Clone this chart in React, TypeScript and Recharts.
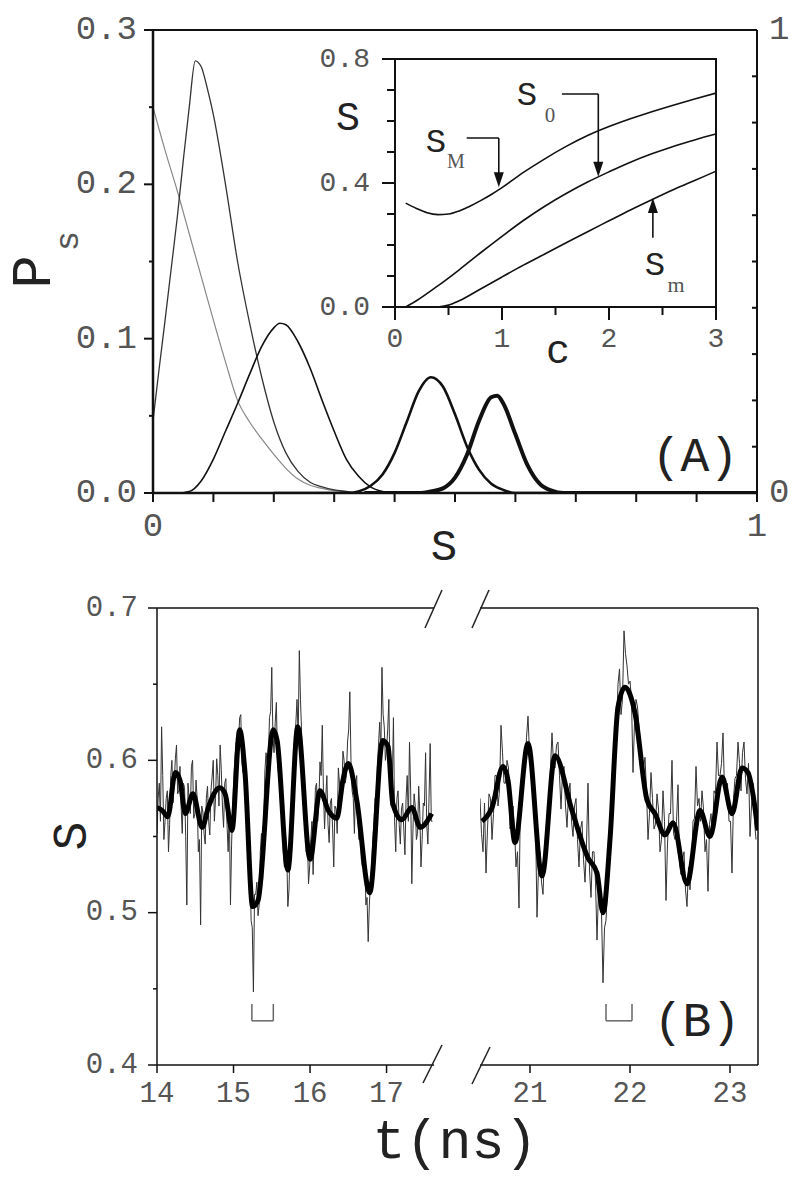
import React from "react";
import { LineChart, Line, XAxis, YAxis, ReferenceLine, ReferenceDot, ReferenceArea } from "recharts";

const FONT = "'Liberation Mono', 'DejaVu Sans Mono', monospace";
const SUB_FONT = "'Liberation Serif', 'DejaVu Serif', serif";
const INK = "#111";
const LABEL = "#555";

// ---------- panel A: P_s(S) distributions ----------
const GRAY_S = [0, 0.02, 0.04, 0.06, 0.08, 0.1, 0.12, 0.14, 0.16, 0.18, 0.2, 0.22, 0.24, 0.26, 0.28, 0.3, 0.32, 0.34, 0.4];
const GRAY_P = [0.25, 0.222, 0.196, 0.168, 0.14, 0.112, 0.085, 0.06, 0.046, 0.035, 0.025, 0.016, 0.009, 0.005, 0.003, 0.0015, 0.0008, 0, 0];

const THIN_S = [0, 0.01, 0.02, 0.03, 0.04, 0.05, 0.06, 0.07, 0.08, 0.09, 0.1, 0.12, 0.14, 0.16, 0.18, 0.2, 0.22, 0.24, 0.26, 0.28, 0.3, 0.32, 0.34, 0.4];
const THIN_P = [0.047, 0.08, 0.112, 0.145, 0.178, 0.215, 0.25, 0.28, 0.276, 0.262, 0.245, 0.2, 0.15, 0.11, 0.075, 0.046, 0.026, 0.014, 0.007, 0.004, 0.002, 0.001, 0, 0];

const MID_S = [0, 0.04, 0.06, 0.08, 0.1, 0.12, 0.14, 0.16, 0.18, 0.2, 0.21, 0.22, 0.24, 0.26, 0.28, 0.3, 0.32, 0.34, 0.36, 0.38, 0.4, 0.5];
const MID_P = [0, 0, 0.001, 0.008, 0.022, 0.04, 0.058, 0.077, 0.095, 0.107, 0.11, 0.109, 0.098, 0.081, 0.06, 0.04, 0.022, 0.011, 0.004, 0.001, 0, 0];

const BOLD_S = [0.2, 0.32, 0.34, 0.36, 0.38, 0.4, 0.42, 0.44, 0.46, 0.48, 0.5, 0.52, 0.54, 0.56, 0.58, 0.6, 0.7];
const BOLD_P = [0, 0, 0.001, 0.0045, 0.012, 0.026, 0.046, 0.066, 0.075, 0.069, 0.051, 0.03, 0.015, 0.006, 0.002, 0, 0];

const HEAVY_S = [0.35, 0.44, 0.46, 0.48, 0.5, 0.52, 0.54, 0.56, 0.57, 0.58, 0.6, 0.62, 0.64, 0.66, 0.68, 0.7, 1];
const HEAVY_P = [0, 0, 0.001, 0.003, 0.01, 0.025, 0.047, 0.062, 0.063, 0.058, 0.038, 0.018, 0.006, 0.0015, 0, 0, 0];

const A_X_TICKS = [0, 0.1, 0.2, 0.3, 0.4, 0.5, 0.6, 0.7, 0.8, 0.9, 1];
const A_X_LABELS = ["0", "", "", "", "", "", "", "", "", "", "1"];
const A_Y_TICKS = [0, 0.05, 0.1, 0.15, 0.2, 0.25, 0.3];
const A_Y_LABELS = ["0.0", "", "0.1", "", "0.2", "", "0.3"];
const A_R_TICKS = [0, 0.1, 0.2, 0.3, 0.4, 0.5, 0.6, 0.7, 0.8, 0.9, 1];
const A_R_LABELS = ["0", "", "", "", "", "", "", "", "", "", "1"];

// ---------- inset: S(c) ----------
const SM_C = [0.1, 0.2, 0.3, 0.4, 0.5, 0.6, 0.7, 0.8, 0.9, 1, 1.2, 1.4, 1.6, 1.8, 2, 2.2, 2.4, 2.6, 2.8, 3];
const SM_S = [0.335, 0.318, 0.304, 0.298, 0.3, 0.31, 0.325, 0.343, 0.363, 0.385, 0.434, 0.478, 0.518, 0.553, 0.582, 0.607, 0.63, 0.651, 0.671, 0.69];
const S0_C = [0.1, 0.2, 0.4, 0.6, 0.8, 1, 1.2, 1.4, 1.6, 1.8, 2, 2.2, 2.4, 2.6, 2.8, 3];
const S0_S = [0, 0.02, 0.068, 0.12, 0.175, 0.228, 0.279, 0.325, 0.366, 0.403, 0.436, 0.467, 0.494, 0.518, 0.539, 0.558];
const SMIN_C = [0.4, 0.5, 0.6, 0.8, 1, 1.2, 1.4, 1.6, 1.8, 2, 2.2, 2.4, 2.6, 2.8, 3];
const SMIN_S = [0, 0.006, 0.02, 0.058, 0.097, 0.135, 0.171, 0.207, 0.243, 0.278, 0.313, 0.346, 0.378, 0.408, 0.438];

const IN_X_TICKS = [0, 0.5, 1, 1.5, 2, 2.5, 3];
const IN_X_LABELS = ["0", "", "1", "", "2", "", "3"];
const IN_Y_TICKS = [0, 0.1, 0.2, 0.3, 0.4, 0.5, 0.6, 0.7, 0.8];
const IN_Y_LABELS = ["0.0", "", "", "", "0.4", "", "", "", "0.8"];

// ---------- panel B: S(t) ----------
// raw trace, sampled every 15 ps: the "main" samples and the ones halfway between them
const NOISE_DT = 0.03;
const NOISE_L_T0 = 14;
const NOISE_L = [
  0.552, 0.585, 0.622, 0.548, 0.575, 0.54, 0.59, 0.572, 0.601, 0.578,
  0.596, 0.552, 0.582, 0.505, 0.575, 0.596, 0.562, 0.587, 0.54, 0.492,
  0.566, 0.545, 0.583, 0.551, 0.589, 0.56, 0.601, 0.57, 0.594, 0.556,
  0.588, 0.54, 0.505, 0.572, 0.603, 0.6, 0.628, 0.598, 0.606, 0.56,
  0.52, 0.495, 0.448, 0.512, 0.498, 0.54, 0.522, 0.593, 0.598, 0.628,
  0.661, 0.605, 0.638, 0.59, 0.586, 0.54, 0.55, 0.504, 0.545, 0.578,
  0.612, 0.64, 0.672, 0.618, 0.592, 0.54, 0.519, 0.548, 0.525, 0.582,
  0.56, 0.599, 0.623, 0.555, 0.59, 0.546, 0.575, 0.53, 0.568, 0.595,
  0.572, 0.606, 0.585, 0.612, 0.645, 0.58, 0.552, 0.59, 0.548, 0.535,
  0.542, 0.505, 0.481, 0.52, 0.548, 0.575, 0.598, 0.625, 0.661, 0.622,
  0.608, 0.64, 0.57, 0.628, 0.54, 0.58, 0.545, 0.572, 0.538, 0.59,
  0.612, 0.519, 0.578, 0.548, 0.583, 0.53, 0.572, 0.605, 0.545, 0.611,
  0.56,
];
const NOISE_L_MID = [
  0.575, 0.56, 0.59, 0.56, 0.58, 0.558, 0.6, 0.585, 0.61, 0.58,
  0.57, 0.585, 0.55, 0.585, 0.565, 0.6, 0.565, 0.575, 0.548, 0.57,
  0.552, 0.575, 0.56, 0.58, 0.6, 0.575, 0.59, 0.61, 0.57, 0.585,
  0.558, 0.57, 0.545, 0.59, 0.612, 0.612, 0.63, 0.592, 0.6, 0.545,
  0.53, 0.49, 0.512, 0.52, 0.505, 0.552, 0.56, 0.605, 0.6, 0.632,
  0.615, 0.625, 0.598, 0.605, 0.575, 0.53, 0.54, 0.515, 0.562, 0.595,
  0.625, 0.615, 0.64, 0.6, 0.575, 0.55, 0.53, 0.56, 0.55, 0.585,
  0.572, 0.59, 0.58, 0.575, 0.558, 0.572, 0.555, 0.57, 0.552, 0.585,
  0.578, 0.6, 0.59, 0.62, 0.6, 0.575, 0.585, 0.56, 0.565, 0.53,
  0.535, 0.51, 0.505, 0.53, 0.56, 0.572, 0.61, 0.605, 0.63, 0.6,
  0.62, 0.59, 0.585, 0.56, 0.575, 0.558, 0.568, 0.555, 0.575, 0.56,
  0.58, 0.555, 0.57, 0.552, 0.565, 0.548, 0.57, 0.558, 0.575, 0.56,
];
const NOISE_R_T0 = 20.5;
const NOISE_R = [
  0.575, 0.54, 0.526, 0.578, 0.548, 0.59, 0.57, 0.623, 0.585, 0.6,
  0.555, 0.57, 0.53, 0.503, 0.592, 0.596, 0.629, 0.6, 0.572, 0.497,
  0.54, 0.512, 0.555, 0.575, 0.618, 0.595, 0.612, 0.568, 0.596, 0.556,
  0.585, 0.55, 0.575, 0.53, 0.56, 0.52, 0.585, 0.51, 0.54, 0.482,
  0.52, 0.454, 0.495, 0.53, 0.585, 0.605, 0.65, 0.63, 0.685, 0.662,
  0.652, 0.592, 0.64, 0.622, 0.588, 0.602, 0.548, 0.592, 0.555, 0.578,
  0.54, 0.58, 0.508, 0.565, 0.6, 0.548, 0.584, 0.525, 0.54, 0.504,
  0.515, 0.56, 0.596, 0.575, 0.58, 0.54, 0.514, 0.565, 0.58, 0.612,
  0.59, 0.618, 0.575, 0.56, 0.526, 0.588, 0.612, 0.58, 0.612, 0.578,
  0.55, 0.585, 0.548,
];
const NOISE_R_MID = [
  0.552, 0.572, 0.555, 0.575, 0.565, 0.59, 0.58, 0.605, 0.585, 0.595,
  0.56, 0.555, 0.54, 0.58, 0.59, 0.615, 0.605, 0.6, 0.56, 0.53,
  0.52, 0.54, 0.56, 0.595, 0.598, 0.61, 0.59, 0.592, 0.57, 0.578,
  0.56, 0.57, 0.548, 0.555, 0.535, 0.545, 0.528, 0.54, 0.52, 0.515,
  0.5, 0.49, 0.515, 0.56, 0.595, 0.62, 0.66, 0.64, 0.67, 0.65,
  0.64, 0.625, 0.635, 0.6, 0.595, 0.58, 0.565, 0.575, 0.558, 0.568,
  0.548, 0.56, 0.545, 0.565, 0.552, 0.56, 0.532, 0.535, 0.515, 0.53,
  0.532, 0.562, 0.57, 0.56, 0.568, 0.548, 0.558, 0.55, 0.578, 0.59,
  0.598, 0.58, 0.585, 0.56, 0.575, 0.59, 0.598, 0.605, 0.588, 0.598,
  0.57, 0.56,
];

const SMOOTH_L_T = [14, 14.07, 14.14, 14.24, 14.3, 14.37, 14.47, 14.59, 14.67, 14.82, 14.89, 14.98, 15.08, 15.15, 15.25, 15.32, 15.52, 15.57, 15.71, 15.84, 16, 16.13, 16.24, 16.35, 16.43, 16.5, 16.61, 16.78, 16.95, 17.02, 17.08, 17.2, 17.33, 17.44, 17.59];
const SMOOTH_L_S = [0.569, 0.567, 0.563, 0.592, 0.587, 0.565, 0.578, 0.556, 0.569, 0.582, 0.578, 0.554, 0.62, 0.592, 0.504, 0.508, 0.62, 0.613, 0.528, 0.622, 0.535, 0.58, 0.567, 0.562, 0.587, 0.598, 0.574, 0.513, 0.613, 0.609, 0.572, 0.561, 0.569, 0.556, 0.565];
const SMOOTH_R_T = [20.52, 20.62, 20.73, 20.78, 20.85, 20.98, 21.12, 21.25, 21.42, 21.58, 21.67, 21.73, 21.8, 21.88, 21.95, 22.05, 22.17, 22.25, 22.35, 22.43, 22.57, 22.7, 22.8, 22.92, 23.02, 23.12, 23.18, 23.28];
const SMOOTH_R_S = [0.56, 0.569, 0.596, 0.587, 0.546, 0.611, 0.524, 0.603, 0.567, 0.536, 0.526, 0.5, 0.548, 0.635, 0.648, 0.631, 0.574, 0.565, 0.551, 0.559, 0.519, 0.567, 0.55, 0.589, 0.565, 0.595, 0.592, 0.554];

const B_Y_TICKS = [0.4, 0.45, 0.5, 0.55, 0.6, 0.65, 0.7];
const B_Y_LABELS = ["0.4", "", "0.5", "", "0.6", "", "0.7"];
const B_XL_TICKS = [14, 15, 16, 17];
const B_XL_LABELS = ["14", "15", "16", "17"];
const B_XR_TICKS = [21, 22, 23];
const B_XR_LABELS = ["21", "22", "23"];

const pts = (xs: number[], ys: number[]) => xs.map((x, i) => ({ x, y: ys[i] }));
// merge the main samples with the halfway samples into one time series
const trace = (t0: number, main: number[], mid: number[]) => {
  const out: { x: number; y: number }[] = [];
  main.forEach((y, i) => {
    out.push({ x: +(t0 + i * NOISE_DT).toFixed(4), y });
    if (i < mid.length) out.push({ x: +(t0 + (i + 0.5) * NOISE_DT).toFixed(4), y: mid[i] });
  });
  return out;
};

type TickCfg = {
  values: number[];
  labels: string[];
  side: "left" | "right" | "bottom";
  major: number;
  minor: number;
  gap: number;
  size: number;
  width?: number;
};

function makeTick(cfg: TickCfg) {
  return (props: any) => {
    const { x, y, payload } = props;
    const i = cfg.values.findIndex((v) => Math.abs(v - payload.value) < 1e-6);
    const label = i >= 0 ? cfg.labels[i] : "";
    const len = label ? cfg.major : cfg.minor;
    const sw = cfg.width ?? 2;
    const textProps = { fontFamily: FONT, fontSize: cfg.size, fill: LABEL, dominantBaseline: "central" as const };
    if (cfg.side === "bottom") {
      return (
        <g>
          <line x1={x} y1={y} x2={x} y2={y + len} stroke={INK} strokeWidth={sw} />
          {label ? (
            <text x={x} y={y + cfg.gap} textAnchor="middle" {...textProps}>
              {label}
            </text>
          ) : null}
        </g>
      );
    }
    const dir = cfg.side === "left" ? -1 : 1;
    return (
      <g>
        <line x1={x} y1={y} x2={x + dir * len} y2={y} stroke={INK} strokeWidth={sw} />
        {label ? (
          <text x={x + dir * cfg.gap} y={y} textAnchor={dir < 0 ? "end" : "start"} {...textProps}>
            {label}
          </text>
        ) : null}
      </g>
    );
  };
}

const axisBase = { tickSize: 0, tickMargin: 0, tickLine: false, interval: 0 as const, allowDataOverflow: true };

const arrowDown = (p: any) => (
  <polygon points={`${p.cx - 5},${p.cy - 15} ${p.cx + 5},${p.cy - 15} ${p.cx},${p.cy}`} fill={INK} />
);
const arrowUp = (p: any) => (
  <polygon points={`${p.cx - 5},${p.cy + 15} ${p.cx + 5},${p.cy + 15} ${p.cx},${p.cy}`} fill={INK} />
);

function PanelA() {
  return (
    <div style={{ position: "absolute", left: 0, top: 0 }}>
      <LineChart width={792} height={560} margin={{ top: 30, right: 0, bottom: 7, left: 0 }}>
        <XAxis
          {...axisBase}
          type="number"
          dataKey="x"
          domain={[0, 1]}
          ticks={A_X_TICKS}
          height={60}
          axisLine={{ stroke: INK, strokeWidth: 2.5 }}
          tick={makeTick({ values: A_X_TICKS, labels: A_X_LABELS, side: "bottom", major: 9, minor: 9, gap: 34, size: 34 })}
        />
        <YAxis
          {...axisBase}
          yAxisId="l"
          type="number"
          domain={[0, 0.3]}
          ticks={A_Y_TICKS}
          width={153}
          axisLine={{ stroke: INK, strokeWidth: 2.5 }}
          tick={makeTick({ values: A_Y_TICKS, labels: A_Y_LABELS, side: "left", major: 9, minor: 4, gap: 16, size: 34 })}
        />
        <YAxis
          {...axisBase}
          yAxisId="r"
          orientation="right"
          type="number"
          domain={[0, 1]}
          ticks={A_R_TICKS}
          width={35}
          axisLine={{ stroke: INK, strokeWidth: 2 }}
          tick={makeTick({ values: A_R_TICKS, labels: A_R_LABELS, side: "right", major: -5, minor: -5, gap: 12, size: 34 })}
        />
        <ReferenceLine yAxisId="l" y={0.3} stroke={INK} strokeWidth={2} ifOverflow="visible" />
        <Line yAxisId="l" data={pts(GRAY_S, GRAY_P)} dataKey="y" type="monotone" stroke="#888" strokeWidth={1.2} dot={false} activeDot={false} isAnimationActive={false} />
        <Line yAxisId="l" data={pts(THIN_S, THIN_P)} dataKey="y" type="monotone" stroke="#333" strokeWidth={1.3} dot={false} activeDot={false} isAnimationActive={false} />
        <Line yAxisId="l" data={pts(MID_S, MID_P)} dataKey="y" type="monotone" stroke={INK} strokeWidth={1.6} dot={false} activeDot={false} isAnimationActive={false} />
        <Line yAxisId="l" data={pts(BOLD_S, BOLD_P)} dataKey="y" type="monotone" stroke={INK} strokeWidth={2.6} dot={false} activeDot={false} isAnimationActive={false} />
        <Line yAxisId="l" data={pts(HEAVY_S, HEAVY_P)} dataKey="y" type="monotone" stroke={INK} strokeWidth={4} dot={false} activeDot={false} isAnimationActive={false} />
      </LineChart>
    </div>
  );
}

function Inset() {
  return (
    <div style={{ position: "absolute", left: 300, top: 20 }}>
      <LineChart width={440} height={347} margin={{ top: 39, right: 24, bottom: 0, left: 0 }}>
        <XAxis
          {...axisBase}
          type="number"
          dataKey="x"
          domain={[0, 3]}
          ticks={IN_X_TICKS}
          height={60}
          axisLine={{ stroke: INK, strokeWidth: 2 }}
          tick={makeTick({ values: IN_X_TICKS, labels: IN_X_LABELS, side: "bottom", major: 13, minor: 8, gap: 32, size: 28 })}
        />
        <YAxis
          {...axisBase}
          type="number"
          domain={[0, 0.8]}
          ticks={IN_Y_TICKS}
          width={95}
          axisLine={{ stroke: INK, strokeWidth: 2 }}
          tick={makeTick({ values: IN_Y_TICKS, labels: IN_Y_LABELS, side: "left", major: 13, minor: 8, gap: 25, size: 28 })}
        />
        <ReferenceArea x1={0} x2={3} y1={0} y2={0.8} fill="none" fillOpacity={0} stroke={INK} strokeWidth={2} ifOverflow="visible" />
        <Line data={pts(SM_C, SM_S)} dataKey="y" type="monotone" stroke={INK} strokeWidth={1.6} dot={false} activeDot={false} isAnimationActive={false} />
        <Line data={pts(S0_C, S0_S)} dataKey="y" type="monotone" stroke={INK} strokeWidth={1.6} dot={false} activeDot={false} isAnimationActive={false} />
        <Line data={pts(SMIN_C, SMIN_S)} dataKey="y" type="monotone" stroke={INK} strokeWidth={1.6} dot={false} activeDot={false} isAnimationActive={false} />
        <ReferenceLine segment={[{ x: 0.67, y: 0.545 }, { x: 0.97, y: 0.545 }]} stroke={INK} strokeWidth={1.6} />
        <ReferenceLine segment={[{ x: 0.97, y: 0.545 }, { x: 0.97, y: 0.42 }]} stroke={INK} strokeWidth={1.6} />
        <ReferenceDot x={0.97} y={0.386} r={0} shape={arrowDown} />
        <ReferenceLine segment={[{ x: 1.56, y: 0.687 }, { x: 1.9, y: 0.687 }]} stroke={INK} strokeWidth={1.6} />
        <ReferenceLine segment={[{ x: 1.9, y: 0.687 }, { x: 1.9, y: 0.45 }]} stroke={INK} strokeWidth={1.6} />
        <ReferenceDot x={1.9} y={0.42} r={0} shape={arrowDown} />
        <ReferenceLine segment={[{ x: 2.41, y: 0.223 }, { x: 2.41, y: 0.33 }]} stroke={INK} strokeWidth={1.6} />
        <ReferenceDot x={2.41} y={0.352} r={0} shape={arrowUp} />
      </LineChart>
    </div>
  );
}

function PanelB() {
  const yTick = makeTick({ values: B_Y_TICKS, labels: B_Y_LABELS, side: "left", major: 9, minor: 4, gap: 19, size: 29, width: 1.5 });
  return (
    <>
      <div style={{ position: "absolute", left: 0, top: 560 }}>
        <LineChart width={440} height={555} margin={{ top: 48, right: 6, bottom: 0, left: 0 }}>
          <XAxis
            {...axisBase}
            type="number"
            dataKey="x"
            domain={[14, 17.62]}
            ticks={B_XL_TICKS}
            height={50}
            axisLine={{ stroke: INK, strokeWidth: 1.5 }}
            tick={makeTick({ values: B_XL_TICKS, labels: B_XL_LABELS, side: "bottom", major: 8, minor: 8, gap: 29, size: 29, width: 1.5 })}
          />
          <YAxis {...axisBase} type="number" domain={[0.4, 0.7]} ticks={B_Y_TICKS} width={157} axisLine={{ stroke: INK, strokeWidth: 1.5 }} tick={yTick} />
          <ReferenceLine y={0.7} stroke={INK} strokeWidth={1.5} ifOverflow="visible" />
          <Line data={trace(NOISE_L_T0, NOISE_L, NOISE_L_MID)} dataKey="y" type="linear" stroke="#333" strokeWidth={1} dot={false} activeDot={false} isAnimationActive={false} />
          <Line data={pts(SMOOTH_L_T, SMOOTH_L_S)} dataKey="y" type="monotone" stroke="#000" strokeWidth={5} dot={false} activeDot={false} isAnimationActive={false} />
          <ReferenceLine segment={[{ x: 15.24, y: 0.44 }, { x: 15.24, y: 0.429 }]} stroke="#666" strokeWidth={1.5} />
          <ReferenceLine segment={[{ x: 15.24, y: 0.429 }, { x: 15.52, y: 0.429 }]} stroke="#666" strokeWidth={1.5} />
          <ReferenceLine segment={[{ x: 15.52, y: 0.429 }, { x: 15.52, y: 0.44 }]} stroke="#666" strokeWidth={1.5} />
        </LineChart>
      </div>
      <div style={{ position: "absolute", left: 470, top: 560 }}>
        <LineChart width={300} height={555} margin={{ top: 48, right: 12, bottom: 0, left: 10 }}>
          <XAxis
            {...axisBase}
            type="number"
            dataKey="x"
            domain={[20.5, 23.28]}
            ticks={B_XR_TICKS}
            height={50}
            axisLine={{ stroke: INK, strokeWidth: 1.5 }}
            tick={makeTick({ values: B_XR_TICKS, labels: B_XR_LABELS, side: "bottom", major: 8, minor: 8, gap: 29, size: 29, width: 1.5 })}
          />
          <YAxis hide type="number" domain={[0.4, 0.7]} allowDataOverflow />
          <ReferenceLine y={0.7} stroke={INK} strokeWidth={1.5} ifOverflow="visible" />
          <ReferenceLine x={23.28} stroke={INK} strokeWidth={1.5} ifOverflow="visible" />
          <Line data={trace(NOISE_R_T0, NOISE_R, NOISE_R_MID)} dataKey="y" type="linear" stroke="#333" strokeWidth={1} dot={false} activeDot={false} isAnimationActive={false} />
          <Line data={pts(SMOOTH_R_T, SMOOTH_R_S)} dataKey="y" type="monotone" stroke="#000" strokeWidth={5} dot={false} activeDot={false} isAnimationActive={false} />
          <ReferenceLine segment={[{ x: 21.76, y: 0.44 }, { x: 21.76, y: 0.429 }]} stroke="#666" strokeWidth={1.5} />
          <ReferenceLine segment={[{ x: 21.76, y: 0.429 }, { x: 22.02, y: 0.429 }]} stroke="#666" strokeWidth={1.5} />
          <ReferenceLine segment={[{ x: 22.02, y: 0.429 }, { x: 22.02, y: 0.44 }]} stroke="#666" strokeWidth={1.5} />
        </LineChart>
      </div>
    </>
  );
}

function Overlay() {
  const t = { fontFamily: FONT, fill: "#222" };
  const sub = { fontFamily: SUB_FONT, fill: "#555" };
  return (
    <svg width={792} height={1182} style={{ position: "absolute", left: 0, top: 0, pointerEvents: "none" }}>
      {/* panel A titles */}
      <text x={50} y={272} transform="rotate(-90 50 272)" textAnchor="middle" fontSize={56} {...t}>P</text>
      <text x={78} y={241} transform="rotate(-90 78 241)" textAnchor="middle" fontSize={34} fontFamily={FONT} fill="#555">s</text>
      <text x={444} y={560} textAnchor="middle" fontSize={44} {...t}>S</text>
      <text x={695} y={471} textAnchor="middle" fontSize={48} {...t}>(A)</text>
      {/* inset titles */}
      <text x={348} y={130} textAnchor="middle" fontSize={40} {...t}>S</text>
      <text x={558} y={363} textAnchor="middle" fontSize={40} {...t}>c</text>
      <text x={436} y={152} textAnchor="middle" fontSize={34} {...t}>S</text>
      <text x={456} y={168} textAnchor="middle" fontSize={20} {...sub}>M</text>
      <text x={527} y={105} textAnchor="middle" fontSize={34} {...t}>S</text>
      <text x={550} y={122} textAnchor="middle" fontSize={21} {...sub}>0</text>
      <text x={655} y={275} textAnchor="middle" fontSize={34} {...t}>S</text>
      <text x={676} y={292} textAnchor="middle" fontSize={22} {...sub}>m</text>
      {/* panel B titles */}
      <text x={86} y={836} transform="rotate(-90 86 836)" textAnchor="middle" fontSize={48} {...t}>S</text>
      <text x={455} y={1158} textAnchor="middle" fontSize={55} {...t}>t(ns)</text>
      <text x={697} y={1036} textAnchor="middle" fontSize={48} {...t}>(B)</text>
      {/* axis break marks */}
      <g stroke="#222" strokeWidth={1.5}>
        <line x1={425} y1={628} x2={442} y2={590} />
        <line x1={472} y1={628} x2={489} y2={590} />
        <line x1={423} y1={1083} x2={442} y2={1045} />
        <line x1={472} y1={1084} x2={490} y2={1047} />
      </g>
    </svg>
  );
}

export default function App() {
  return (
    <div style={{ position: "absolute", left: 0, top: 0, width: 792, height: 1182, background: "#fff", fontFamily: FONT }}>
      <PanelA />
      <Inset />
      <PanelB />
      <Overlay />
    </div>
  );
}
